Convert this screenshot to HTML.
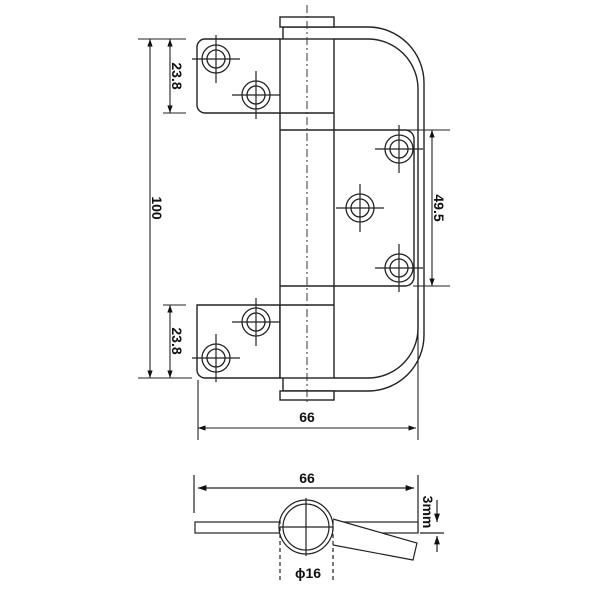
<!DOCTYPE html>
<html><head><meta charset="utf-8"><style>
html,body{margin:0;padding:0;background:#fff;width:600px;height:600px;overflow:hidden}
svg{display:block}
text{font-family:"Liberation Sans",Arial,sans-serif;font-weight:bold;font-size:14px;fill:#111}
</style></head><body>
<svg width="600" height="600" viewBox="0 0 600 600" xmlns="http://www.w3.org/2000/svg">
<defs>
<marker id="a" viewBox="0 0 10 10" refX="10" refY="5" markerWidth="7" markerHeight="7" orient="auto-start-reverse"><path d="M0,1.5 L10,5 L0,8.5 z" fill="#111"/></marker>
<g id="h"><circle r="14" fill="none" stroke="#222" stroke-width="1.3"/><circle r="9" fill="none" stroke="#222" stroke-width="1.3"/><path d="M-24,0H24M0,-24V24" stroke="#222" stroke-width="1.2"/></g>
</defs>
<g fill="none" stroke="#222" stroke-width="1.4">
<!-- hook wire -->
<path d="M283,27 H368 A56,56 0 0 1 424,83 V335 A56,56 0 0 1 368,391 H283"/>
<path d="M334,39 H368 A50,50 0 0 1 418,89 V329 A50,50 0 0 1 368,378 H334"/>
<!-- caps -->
<rect x="280" y="17" width="54" height="10" fill="#fff"/>
<rect x="280" y="391" width="54" height="9" fill="#fff"/>
<path d="M283,27V39M283,378V391"/>
<!-- top leaf -->
<path d="M280,39 H205 A8,8 0 0 0 197,47 V105 A8,8 0 0 0 205,113 H280" fill="#fff"/>
<path d="M197,305 H280 V378 H205 A8,8 0 0 1 197,370 Z" fill="#fff"/>
<!-- middle leaf -->
<path d="M334,130 H405 A9,9 0 0 1 414,139 V277 A9,9 0 0 1 405,286 H334" fill="#fff"/>
<!-- barrel -->
<rect x="280" y="39" width="54" height="339" fill="#fff"/>
<path d="M280,113H334M280,130H334M280,286H334M280,305H334"/>
</g>
<path d="M307,5V405" stroke="#333" stroke-width="1" stroke-dasharray="8,3,2,3"/>
<use href="#h" x="216" y="59"/><use href="#h" x="256" y="95"/>
<use href="#h" x="399" y="149"/><use href="#h" x="360" y="208"/><use href="#h" x="399" y="268"/>
<use href="#h" x="256" y="322"/><use href="#h" x="216" y="358"/>
<!-- dimensions -->
<g stroke="#222" stroke-width="1.1" fill="none">
<path d="M138,39H186M138,378H192M163,113H186M163,305H186M334,130H450M413,286H450M198,380V440M418,300V440"/>
<path d="M150,39V378" marker-start="url(#a)" marker-end="url(#a)"/>
<path d="M170,39V113" marker-start="url(#a)" marker-end="url(#a)"/>
<path d="M170,305V378" marker-start="url(#a)" marker-end="url(#a)"/>
<path d="M432,130V286" marker-start="url(#a)" marker-end="url(#a)"/>
<path d="M198,428H416" marker-start="url(#a)" marker-end="url(#a)"/>
</g>
<text transform="translate(172,76) rotate(90)" text-anchor="middle">23.8</text>
<text transform="translate(172,341) rotate(90)" text-anchor="middle">23.8</text>
<text transform="translate(152,208) rotate(90)" text-anchor="middle">100</text>
<text transform="translate(434,208) rotate(90)" text-anchor="middle">49.5</text>
<text x="307" y="422" text-anchor="middle">66</text>
<!-- bottom view -->
<g stroke="#222" stroke-width="1.2" fill="none">
<path d="M194,475V513M418,475V533M420,533H444"/>
<path d="M198,488H414" marker-start="url(#a)" marker-end="url(#a)"/>
<rect x="195" y="522" width="223" height="11" fill="#fff"/>
<path d="M333,519 L417,543 L413,560 L333,545" fill="#fff"/>
<circle cx="306" cy="527" r="27" fill="#fff"/>
<circle cx="306" cy="527" r="23"/>
<path d="M280,527H333M306,498V556"/>
<path d="M280,520V582M333,520V582" stroke-dasharray="4,3"/>
<path d="M437,500V522" marker-end="url(#a)"/>
<path d="M437,552V536" marker-end="url(#a)"/>
</g>
<text x="307" y="483" text-anchor="middle">66</text>
<text x="308" y="578" text-anchor="middle">ϕ16</text>
<text transform="translate(423,512) rotate(90)" text-anchor="middle" font-size="13">3mm</text>
</svg>
</body></html>
